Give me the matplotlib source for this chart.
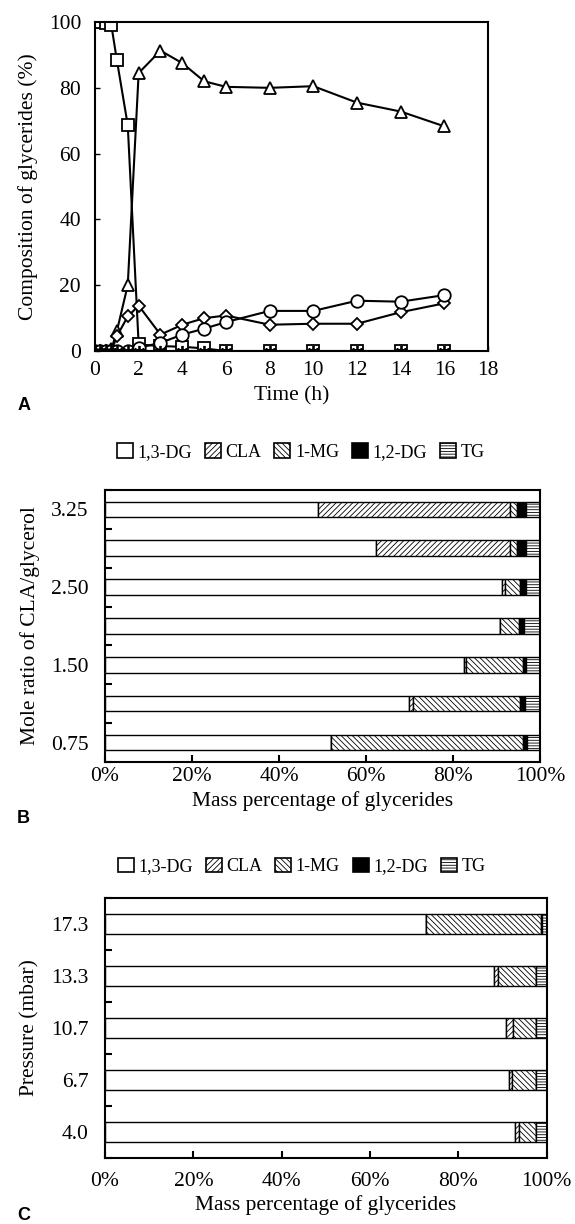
import numpy as np
import matplotlib
matplotlib.use("Agg")
import matplotlib.pyplot as plt
from matplotlib.patches import Patch

plt.rcParams['font.family'] = ['Liberation Serif', 'DejaVu Serif']
plt.rcParams['hatch.linewidth'] = 0.6

# Panel A : composition vs time
time_h = [0, 0.25, 0.5, 0.75, 1, 1.5, 2, 3, 4, 5, 6, 8, 10, 12, 14, 16]
sq_vals = [100, 100, 99.8, 99, 88.5, 68.7, 2, 1.5, 1.3, 0.8, 0, 0, 0, 0, 0, 0]
tri_vals = [0, 0, 0, 0.5, 6, 20, 84.5, 91.3, 87.5, 82, 80.3, 80, 80.5, 75.5, 72.8, 68.3]
dia_vals = [0, 0, 0, 0, 4.5, 10.5, 13.8, 5, 8, 10, 10.8, 8, 8.3, 8.3, 11.8, 14.5]
circ_vals = [0, 0, 0, 0, 0, 0, 1, 2.5, 5, 6.8, 8.8, 12.2, 12.2, 15.3, 15, 17]
star_vals = [0, 0, 0, 0, 0, 0, 0, 0, 0, 0, 0, 0, 0, 0, 0, 0]

components = ['1,3-DG', 'CLA', '1-MG', '1,2-DG', 'TG']

# Panel B : mole ratio (bottom to top)
ratio_labels = ['0.75', '', '1.50', '', '2.50', '', '3.25']
b_dg13 = [52.0, 70.0, 82.5, 90.8, 91.2, 62.2, 48.9]
b_cla = [0.0, 0.8, 0.5, 0.0, 0.8, 30.8, 44.1]
b_mg1 = [44.0, 24.7, 13.0, 4.3, 3.4, 1.8, 1.8]
b_dg12 = [1.0, 1.0, 0.8, 1.2, 1.4, 2.0, 2.0]
b_tg = [3.0, 3.5, 3.2, 3.7, 3.2, 3.2, 3.2]

# Panel C : pressure (bottom to top)
pressure_labels = ['4.0', '6.7', '10.7', '13.3', '17.3']
c_dg13 = [92.9, 91.5, 90.7, 88.1, 72.8]
c_cla = [0.9, 0.6, 1.8, 0.9, 0.0]
c_mg1 = [3.9, 5.6, 5.0, 8.7, 26.0]
c_dg12 = [0.0, 0.0, 0.0, 0.0, 0.2]
c_tg = [2.3, 2.3, 2.5, 2.3, 1.0]

hatches = ['', '//////', '\\\\\\\\\\\\', '', '------']
faces = ['white', 'white', 'white', 'black', 'white']
FS = 15.5

fig = plt.figure(figsize=(5.75, 12.24), dpi=100)

# ---------- A ----------
ax1 = fig.add_axes([0.1652, 0.7132, 0.6835, 0.2688])
kw = dict(color='black', lw=1.5, mfc='white', mec='black', mew=1.3, ms=8)
ax1.plot(time_h, sq_vals, marker='s', **kw)
ax1.plot(time_h, tri_vals, marker='^', **kw)
ax1.plot(time_h, dia_vals, marker='D', **dict(kw, ms=6.5))
ax1.plot(time_h, circ_vals, marker='o', **dict(kw, ms=9))
ax1.plot(time_h, star_vals, color='black', lw=1.5, marker=(6, 2, 0), ms=8, mew=1.3)
ax1.set_xlim(0, 18)
ax1.set_ylim(0, 100)
ax1.set_xticks(np.arange(0, 19, 2))
ax1.set_yticks(np.arange(0, 101, 20))
ax1.tick_params(direction='in', labelsize=FS, width=1)
ax1.tick_params(axis='x', pad=7)
ax1.tick_params(axis='y', pad=10)
ax1.set_xlabel('Time (h)', fontsize=FS, labelpad=5)
ax1.set_ylabel('Composition of glycerides (%)', fontsize=FS, labelpad=8)
for s in ax1.spines.values():
    s.set_linewidth(1.5)
fig.text(0.03, 0.665, 'A', fontsize=13, fontweight='bold', family='Liberation Sans')


def stacked(ax, labels, cols, xpad, legx, legy):
    y = np.arange(len(labels))
    left = np.zeros(len(labels))
    for i, vals in enumerate(cols):
        ax.barh(y, vals, left=left, height=0.4, color=faces[i], edgecolor='black',
                hatch=hatches[i], lw=1.0)
        left = left + np.array(vals)
    ax.set_xlim(0, 100)
    ax.set_ylim(-0.5, len(labels) - 0.5)
    ax.set_yticks(y)
    ax.set_yticklabels(labels)
    ax.set_yticks(np.arange(-0.5, len(labels)), minor=True)
    ax.tick_params(axis='y', which='major', length=0, labelsize=FS, pad=12)
    ax.tick_params(axis='y', which='minor', direction='in', length=5, width=1.5)
    ax.set_xticks(np.arange(0, 101, 20))
    ax.set_xticklabels([f'{v}%' for v in range(0, 101, 20)])
    ax.tick_params(axis='x', direction='in', length=5, width=1.5, labelsize=FS, pad=xpad)
    ax.set_xlabel('Mass percentage of glycerides', fontsize=FS, labelpad=3)
    for s in ax.spines.values():
        s.set_linewidth(1.5)
    handles = [Patch(facecolor=faces[i], edgecolor='black', hatch=hatches[i], lw=1.2,
                     label=components[i]) for i in range(5)]
    ax.legend(handles=handles, ncol=5, loc='lower center', bbox_to_anchor=(legx, legy),
              frameon=False, fontsize=13, handlelength=0.9, handleheight=0.9,
              handletextpad=0.25, columnspacing=0.7, borderaxespad=0)


# ---------- B ----------
ax2 = fig.add_axes([0.1826, 0.3775, 0.7565, 0.2222])
stacked(ax2, ratio_labels, [b_dg13, b_cla, b_mg1, b_dg12, b_tg], 4, 0.45, 1.08)
ax2.set_ylabel('Mole ratio of CLA/glycerol', fontsize=FS, labelpad=8)
fig.text(0.03, 0.328, 'B', fontsize=13, fontweight='bold', family='Liberation Sans')

# ---------- C ----------
ax3 = fig.add_axes([0.1826, 0.0539, 0.768, 0.2124])
stacked(ax3, pressure_labels, [c_dg13, c_cla, c_mg1, c_dg12, c_tg], 10, 0.445, 1.06)
ax3.set_ylabel('Pressure (mbar)', fontsize=FS, labelpad=8)
fig.text(0.03, 0.003, 'C', fontsize=13, fontweight='bold', family='Liberation Sans')

fig.savefig('out.png', dpi=100)
